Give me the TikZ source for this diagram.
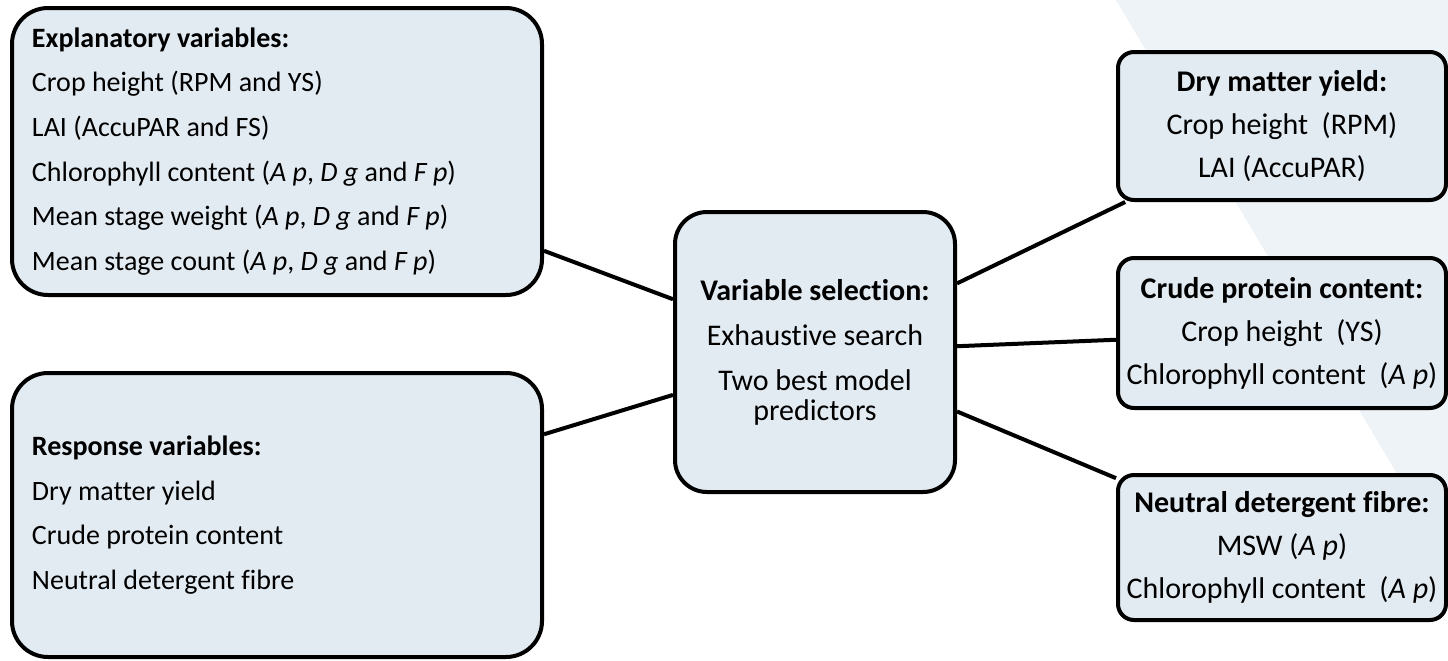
\documentclass[tikz,border=0pt]{standalone}
\usepackage{fontspec}
\setmainfont{Carlito}[Ligatures={NoCommon}]
\usetikzlibrary{positioning, backgrounds}

\definecolor{boxfill}{HTML}{E3EBF2}
\definecolor{bgtint}{HTML}{EEF3F7}

\begin{document}
\begin{tikzpicture}[
    x=0.5pt, y=-0.5pt,
    box/.style={rectangle, draw=black, line width=2pt, fill=boxfill,
                inner xsep=10pt},
    inputbox/.style={box, rounded corners=18pt, text width=245pt,
                     align=flush left, font=\fontsize{14}{22.35}\selectfont},
    selectbox/.style={box, rounded corners=16pt, minimum width=140pt,
                      minimum height=140pt, align=center,
                      font=\fontsize{15}{22.5}\selectfont},
    result/.style={box, rounded corners=8pt, inner xsep=3pt,
                   minimum width=164pt, minimum height=74pt, align=center,
                   font=\fontsize{15}{21.5}\selectfont},
    relation/.style={line width=2pt}
]
\useasboundingbox (0,0) rectangle (1448,660);

% Input boxes
\node[inputbox, minimum height=143.5pt] (explan) at (277,151.5)
    {\textbf{Explanatory variables:}\\
     Crop height (RPM and YS)\\
     LAI (AccuPAR and FS)\\
     Chlorophyll content (\textit{A p}, \textit{D g} and \textit{F p})\\
     Mean stage weight (\textit{A p}, \textit{D g} and \textit{F p})\\
     Mean stage count (\textit{A p}, \textit{D g} and \textit{F p})};
\node[inputbox, minimum height=142pt, below=37pt of explan] (respons)
    {\textbf{Response variables:}\\
     Dry matter yield\\
     Crude protein content\\
     Neutral detergent fibre};

% Selection step
\node[selectbox] (select) at (815,352)
    {\textbf{Variable selection:}\\
     Exhaustive search\\
     Two best model\\[-7.5pt]
     predictors};

% Chosen predictors
\node[result] (dmy) at (1282,126)
    {\textbf{Dry matter yield:}\\
     Crop height~ (RPM)\\
     LAI (AccuPAR)};
\node[result, minimum height=75pt] (cpc) at (1282,333)
    {\textbf{Crude protein content:}\\
     Crop height~ (YS)\\
     Chlorophyll content~ (\textit{A p})};
\node[result, minimum height=72.5pt] (ndf) at (1282,547.5)
    {\textbf{Neutral detergent fibre:}\\
     MSW (\textit{A p})\\
     Chlorophyll content~ (\textit{A p})};

% Relations
\begin{pgfonlayer}{background}
\fill[bgtint] (1116,0) -- (1448,0) -- (1448,560) -- cycle;
\draw[relation] (explan) -- (select);
\draw[relation] (respons) -- (select);
\draw[relation] (select) -- (dmy);
\draw[relation] (select) -- (cpc);
\draw[relation] (select) -- (ndf);
\end{pgfonlayer}

\end{tikzpicture}
\end{document}
